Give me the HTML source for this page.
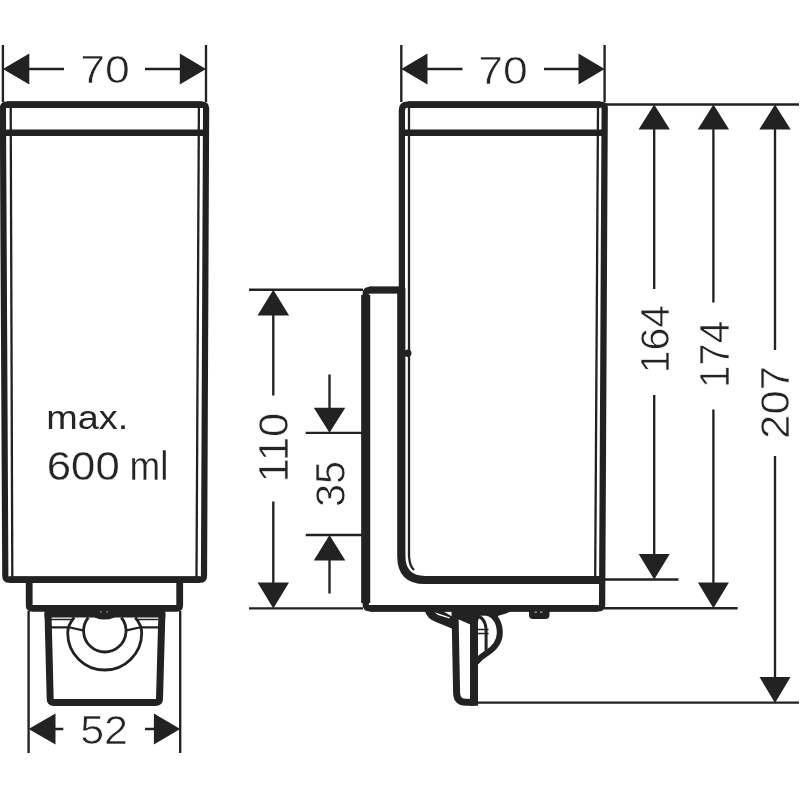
<!DOCTYPE html>
<html>
<head>
<meta charset="utf-8">
<title>Dimension drawing</title>
<style>
html,body{margin:0;padding:0;background:#fff;}
body{width:800px;height:800px;overflow:hidden;}
svg{display:block;}
text{font-family:"Liberation Sans",sans-serif;fill:#222;}
</style>
</head>
<body>
<svg width="800" height="800" viewBox="0 0 800 800">
<rect width="800" height="800" fill="#fff"/>
<g fill="none" stroke="#222" stroke-linecap="butt" stroke-linejoin="round">

<!-- ===== FRONT VIEW ===== -->
<g id="front">
  <!-- body outline -->
  <path d="M2.9,108.6 Q2.9,104.6 6.9,104.6 L202.1,104.6 Q206.1,104.6 206.1,108.6 L204,575.7 Q204,579.7 200,579.7 L9.3,579.7 Q5.3,579.7 5.3,575.7 Z" stroke-width="6.2"/>
  <path d="M7,104.6 H202 M9.5,579.7 H200" stroke-width="6.7"/>
  <path d="M3,132.7 L206,132.7" stroke-width="6.5"/>
  <path d="M10.7,107 L12.3,578" stroke-width="2.3"/>
  <path d="M198.9,107 L196.5,578" stroke-width="2.3"/>
  <!-- base -->
  <path d="M29.2,582 L29.2,605.3 Q29.2,608.3 32.2,608.3 L176.7,608.3 Q179.7,608.3 179.7,605.3 L179.7,582" stroke-width="6.8"/>
  <!-- cup -->
  <path d="M48,613 L50.2,699 Q50.3,702.6 54,702.6 L155.3,702.6 Q159.4,702.6 159.5,699 L161.9,613" stroke-width="7"/>
  <path d="M44.5,611 H165.3 V617.4 H44.5 Z" fill="#222" stroke="none"/>
  <!-- thin lines -->
  <path d="M51,619.4 L73.5,619.4 M136,619.4 L158,619.4" stroke-width="1.5"/>
  <path d="M51,627.3 L69,627.3 L84,630.6 M158,627.3 L140.5,627.3 L125.5,630.6" stroke-width="2.2"/>
  <!-- circles -->
  <path d="M74.2,617.5 Q67.7,625 67.7,633 A37,37 0 0 0 141.7,633 Q141.7,625 135.2,617.5" stroke-width="2.8"/>
  <path d="M88.3,617.5 A21.2,21.2 0 1 0 121.3,617.5" stroke-width="2.8"/>
  <ellipse cx="104.5" cy="613" rx="13" ry="6.6" fill="#222" stroke="none"/>
  <path d="M100,611.8 h2 M106,611.8 h2" stroke="#999" stroke-width="1"/>
</g>

<!-- ===== SIDE VIEW ===== -->
<g id="side">
  <!-- body upper left + top + right -->
  <path d="M401.9,292 L401.9,110 Q401.9,104.6 407.4,104.6 L600.7,104.6 Q604.7,104.6 604.7,108.6 L602.1,604.4 Q602.1,608.4 598,608.4 L370,608.4 Q365.7,608.4 365.7,604 L365.7,294 Q365.7,290 370,290 L401,290" stroke-width="6.3"/>
  <path d="M408,104.6 H600 M370,608.4 H598 M369,290 H401" stroke-width="6.9"/>
  <path d="M365.7,603 L365.7,295" stroke-width="9.1"/>
  <path d="M402,132.7 L604.4,132.7" stroke-width="6.5"/>
  <!-- left edge below bracket, curve and bottom -->
  <path d="M401.3,288 L401.3,556 Q401.3,580 425,580 L602,580" stroke-width="8.2"/>
  <path d="M409,107 L409,556 Q409.5,566 414,570" stroke-width="2.3"/>
  <path d="M598,107 L595.2,577" stroke-width="2.3"/>
  <!-- lever / nozzle -->
  <g id="lever">
    <path d="M424.5,610 Q427,619 436,622 L453,629 L453,617 L441,610 Z" fill="#222" stroke="none"/>
    <path d="M434.5,612.3 L449.5,617.3 L449.5,618.6 L438,615 Z" fill="#fff" stroke="none"/>
    <path d="M455,611 L456.6,693 Q456.9,702.3 466,702.3 L474,702.3" stroke-width="7"/>
    <path d="M474,705.8 L474,621" stroke-width="8"/>
    <path d="M451.5,610 L498,610 L498,615.6 L480,615.8 L478,621 L470.3,624.6 L458.2,619.2 Z" fill="#222" stroke="none"/>
    <path d="M474,615.2 Q486.1,616.5 486.1,631 L486.1,651" stroke-width="3"/>
    <path d="M477,629.6 H488.6 M477,633.4 H488.6" stroke-width="1.5"/>
    <path d="M487,612.5 C496,615 500,624 499.8,633.5 C499.5,643 492,650 486,653.6 C482,656 479,658.5 476,662.5" stroke-width="6"/>
    <path d="M486,609 L516,609 L506,613.5 L496,616.5 L488,616 Z" fill="#222" stroke="none"/>
    <rect x="529" y="608" width="20.5" height="11" rx="4" fill="#222" stroke="none"/>
    <path d="M534.5,612.2 h2.4 M540,612.2 h2.4" stroke="#aaa" stroke-width="1.2"/>
  </g>
</g>

<!-- ===== DIMENSION LINES ===== -->
<g stroke-width="2.35">
  <!-- front 70 -->
  <path d="M2.9,45 V102 M206,45 V102 M28,69 H64 M145,69 H181"/>
  <!-- 52 -->
  <path d="M28.6,611 V753 M180.2,611 V753 M54,729 H63.3 M145,729 H155"/>
  <!-- side 70 -->
  <path d="M401.3,45 V102 M604.6,45 V102 M426,69 H462.5 M544,69 H580"/>
  <!-- 110 -->
  <path d="M249,289.7 H363 M249,608.4 H363 M273.3,314 V395.5 M273.3,501.5 V584"/>
  <!-- 35 -->
  <path d="M305.7,432.8 H362 M305.7,535 H362 M329.5,374.6 V409 M329.5,559 V593.6"/>
  <!-- right verticals -->
  <path d="M606,104.5 H799 M604,579.5 H678.5 M604,608.2 H737.6 M476,702.6 H799"/>
  <path d="M654.2,128 V289 M654.2,395 V556"/>
  <path d="M713.4,128 V302.6 M713.4,409.5 V584"/>
  <path d="M775,128 V350 M775,456 V679"/>
</g>
</g>

<!-- arrows -->
<g fill="#222" stroke="none">
  <path d="M2.9,69 L29.3,53.4 V84.6 Z"/>
  <path d="M206,69 L179.8,53.4 V84.6 Z"/>
  <path d="M28.6,729 L55.5,713.5 V744.6 Z"/>
  <path d="M180.2,729 L153.9,713.5 V744.6 Z"/>
  <path d="M401.3,69 L427.5,53.4 V84.6 Z"/>
  <path d="M604.6,69 L578.5,53.4 V84.6 Z"/>
  <path d="M273.3,289.7 L257.5,315.6 H289.1 Z"/>
  <path d="M329.5,432.8 L313.8,407.7 H345.3 Z"/>
  <path d="M329.5,535 L313.8,560.6 H345.3 Z"/>
  <path d="M273.3,608.4 L257.6,582.5 H289 Z"/>
  <path d="M654.2,104.5 L638.5,129.6 H669.9 Z"/>
  <path d="M713.4,104.5 L697.7,129.6 H729.1 Z"/>
  <path d="M775,104.5 L759.3,129.6 H790.7 Z"/>
  <path d="M654.2,579.5 L638.7,554 H669.7 Z"/>
  <path d="M713.4,608.2 L697.9,582.6 H728.9 Z"/>
  <path d="M775,703 L759.5,677 H790.5 Z"/>
  <circle cx="407.8" cy="353.2" r="3.7"/>
</g>

<!-- text -->
<g font-size="38" stroke="#fff" stroke-width="0.6" opacity="0.99">
  <text stroke-width="0.6" transform="translate(80.27,83.41) scale(1.1739,1.0304)">70</text>
  <text stroke-width="0.6" transform="translate(478.37,83.51) scale(1.1713,1.0341)">70</text>
  <text stroke-width="0.6" transform="translate(80.18,744.39) scale(1.1326,1.0712)">52</text>
  <text stroke-width="0.0" transform="translate(46.35,428.97) scale(0.9950,0.8756)">max.</text>
  <text stroke-width="0.3" transform="translate(46.82,480.00) scale(1.1492,1.0700)">600 <tspan x="71.9" textLength="33.9" lengthAdjust="spacingAndGlyphs">ml</tspan></text>
  <text transform="translate(668.80,373.28) rotate(-90) scale(1.0796,1.0563)">164</text>
  <text transform="translate(728.70,388.02) rotate(-90) scale(1.0594,1.0946)">174</text>
  <text transform="translate(788.99,438.89) rotate(-90) scale(1.1515,1.0675)">207</text>
  <text transform="translate(287.78,482.51) rotate(-90) scale(1.1547,1.0971)">110</text>
  <text transform="translate(344.77,507.07) rotate(-90) scale(1.0961,1.1416)">35</text>
</g>
</svg>
</body>
</html>
